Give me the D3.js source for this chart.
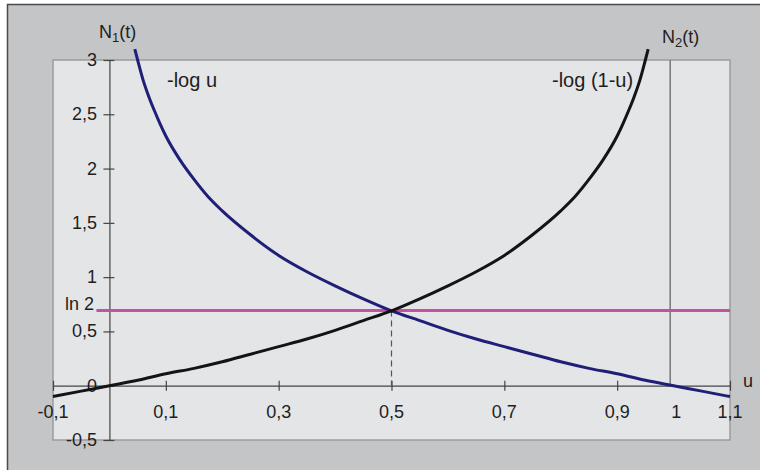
<!DOCTYPE html>
<html>
<head>
<meta charset="utf-8">
<script src="https://cdn.jsdelivr.net/npm/d3@7"></script>
<style>
  html, body { margin: 0; padding: 0; background: #fff; }
  svg { display: block; }
</style>
</head>
<body>
<svg id="chart" width="760" height="470"></svg>
<script>
// -log u
const uA = [0.045, 0.05, 0.06, 0.07, 0.08, 0.09, 0.10, 0.125, 0.15, 0.175, 0.20, 0.25, 0.30, 0.35, 0.40, 0.45, 0.50,
  0.55, 0.60, 0.65, 0.70, 0.75, 0.80, 0.85, 0.90, 0.95, 1.00, 1.05, 1.10];
const negLogU = [3.10, 3.00, 2.81, 2.66, 2.53, 2.41, 2.30, 2.08, 1.90, 1.74, 1.61, 1.39, 1.20, 1.05, 0.92, 0.80, 0.69,
  0.60, 0.51, 0.43, 0.36, 0.29, 0.22, 0.16, 0.11, 0.05, 0.00, -0.05, -0.10];

// -log (1-u)
const uB = [-0.10, -0.05, 0, 0.05, 0.10, 0.15, 0.20, 0.25, 0.30, 0.35, 0.40, 0.45, 0.50, 0.55, 0.60, 0.65, 0.70,
  0.75, 0.80, 0.825, 0.85, 0.875, 0.90, 0.91, 0.92, 0.93, 0.94, 0.95, 0.955];
const negLog1mU = [-0.10, -0.05, 0, 0.05, 0.11, 0.16, 0.22, 0.29, 0.36, 0.43, 0.51, 0.60, 0.69, 0.80, 0.92, 1.05, 1.20,
  1.39, 1.61, 1.74, 1.90, 2.08, 2.30, 2.41, 2.53, 2.66, 2.81, 3.00, 3.10];

const xTicks = [-0.1, 0.1, 0.3, 0.5, 0.7, 0.9, 1.1];
const xTickLabels = ['-0,1', '0,1', '0,3', '0,5', '0,7', '0,9', '1,1'];
const yTicks = [-0.5, 0, 0.5, 1, 1.5, 2, 2.5, 3];
const yTickLabels = ['-0,5', '0', '0,5', '1', '1,5', '2', '2,5', '3'];
const ln2 = 0.693;
const ln2StartU = -0.023;
const crossU = 0.5;
const n2AxisU = 0.994;

const svg = d3.select('#chart');
const font = 'Liberation Sans, Arial, sans-serif';
const ink = '#1e1e1e';

const L = 53, R = 730, T = 60, B = 440;
const x = d3.scaleLinear().domain([-0.1, 1.1]).range([L, R]);
const y = d3.scaleLinear().domain([-0.5, 3]).range([B, T]);

// outer frame
svg.append('rect').attr('x', 7.5).attr('y', 4.5).attr('width', 770).attr('height', 480)
  .attr('fill', '#c4c5c7').attr('stroke', '#4a4a4a').attr('stroke-width', 1.5);

// plot area
svg.append('rect').attr('x', L).attr('y', T).attr('width', R - L).attr('height', B - T)
  .attr('fill', '#e4e5e7').attr('stroke', '#9c9c9c').attr('stroke-width', 1.5);

// N2 axis at u = 1
svg.append('line').attr('x1', x(n2AxisU)).attr('x2', x(n2AxisU)).attr('y1', T).attr('y2', y(0))
  .attr('stroke', '#777').attr('stroke-width', 1.5);

// x axis
const xAxis = d3.axisBottom(x).tickValues(xTicks).tickSize(0).tickFormat('');
const gx = svg.append('g').attr('transform', `translate(0,${y(0)})`).call(xAxis);
gx.select('.domain').attr('stroke', '#444').attr('stroke-width', 1.2);
gx.selectAll('.tick').append('line').attr('y1', -5).attr('y2', 5).attr('stroke', '#444').attr('stroke-width', 1.2);
xTicks.forEach((v, i) => {
  svg.append('text').attr('x', x(v)).attr('y', 418).attr('text-anchor', 'middle')
    .attr('font-family', font).attr('font-size', 18).attr('fill', ink).text(xTickLabels[i]);
});
svg.append('text').attr('x', x(n2AxisU) + 6).attr('y', 418).attr('text-anchor', 'middle')
  .attr('font-family', font).attr('font-size', 18).attr('fill', ink).text('1');

// y axis
const yAxis = d3.axisLeft(y).tickValues(yTicks).tickSize(0).tickFormat('');
const gy = svg.append('g').attr('transform', `translate(${x(0)},0)`).call(yAxis);
gy.select('.domain').attr('stroke', '#444').attr('stroke-width', 1.2);
gy.selectAll('.tick').append('line').attr('x1', -6).attr('x2', 5).attr('stroke', '#444').attr('stroke-width', 1.2);
yTicks.forEach((v, i) => {
  svg.append('text').attr('x', 97).attr('y', y(v) + 6).attr('text-anchor', 'end')
    .attr('font-family', font).attr('font-size', 18).attr('fill', ink).text(yTickLabels[i]);
});

// dashed drop at crossing
svg.append('line').attr('x1', x(crossU)).attr('x2', x(crossU)).attr('y1', y(ln2)).attr('y2', y(0))
  .attr('stroke', '#555').attr('stroke-width', 1.2).attr('stroke-dasharray', '6 4');

// ln 2 line
svg.append('line').attr('x1', x(ln2StartU)).attr('x2', x(1.1)).attr('y1', y(ln2)).attr('y2', y(ln2))
  .attr('stroke', '#c252a4').attr('stroke-width', 3);
svg.append('text').attr('x', 94).attr('y', y(ln2)).attr('text-anchor', 'end')
  .attr('font-family', font).attr('font-size', 18).attr('fill', ink).text('ln 2');

// curves
const line = d3.line().x(d => x(d[0])).y(d => y(d[1])).curve(d3.curveMonotoneX);
svg.append('path').datum(uA.map((u, i) => [u, negLogU[i]])).attr('d', line)
  .attr('fill', 'none').attr('stroke', '#1f1f78').attr('stroke-width', 3);
svg.append('path').datum(uB.map((u, i) => [u, negLog1mU[i]])).attr('d', line)
  .attr('fill', 'none').attr('stroke', '#141414').attr('stroke-width', 3);

// curve labels
svg.append('text').attr('x', 167).attr('y', 87).attr('font-family', font).attr('font-size', 20)
  .attr('fill', ink).text('-log u');
svg.append('text').attr('x', 552).attr('y', 87).attr('font-family', font).attr('font-size', 20)
  .attr('fill', ink).text('-log (1-u)');

// axis names
function axisName(xp, yp, sub) {
  const t = svg.append('text').attr('x', xp).attr('y', yp).attr('font-family', font)
    .attr('font-size', 18).attr('fill', ink);
  t.append('tspan').text('N');
  t.append('tspan').attr('font-size', 13).attr('dy', 4).text(sub);
  t.append('tspan').attr('dy', -4).text('(t)');
}
axisName(99, 38, '1');
axisName(662, 43, '2');
svg.append('text').attr('x', 743).attr('y', 387).attr('font-family', font).attr('font-size', 18)
  .attr('fill', ink).text('u');
</script>
</body>
</html>
